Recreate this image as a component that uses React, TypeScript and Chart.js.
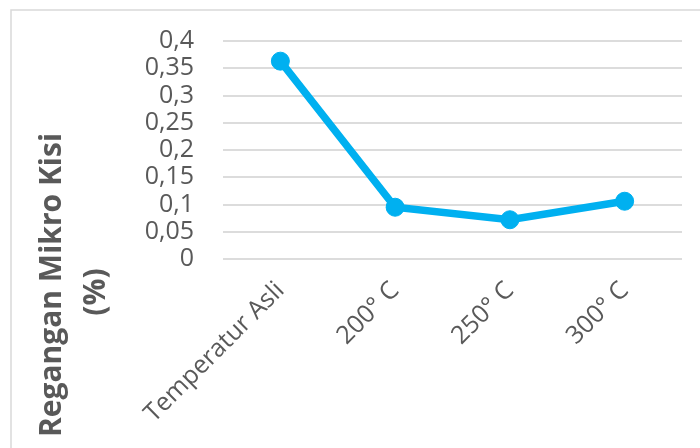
import React, { useEffect, useRef } from "react";
import { Chart, registerables } from "chart.js";

Chart.register(...registerables);

const categories = ["Temperatur Asli", "200° C", "250° C", "300° C"];
const strainValues = [0.363, 0.095, 0.072, 0.106];
const yTickMin = 0;
const yTickMax = 0.4;
const yTickStep = 0.05;
const titleLines = ["Regangan Mikro Kisi", "(%)"];

const TEXT = "#595959";
const LINE = "#00B0F0";

const framePlugin = {
  id: "frameAndTitle",
  beforeDraw(chart: any) {
    const ctx = chart.ctx;
    ctx.save();
    ctx.fillStyle = "#ffffff";
    ctx.fillRect(0, 0, chart.width, chart.height);
    ctx.strokeStyle = "#d9d9d9";
    ctx.lineWidth = 1.5;
    ctx.beginPath();
    ctx.moveTo(11, chart.height + 5);
    ctx.lineTo(11, 10);
    ctx.lineTo(chart.width + 5, 10);
    ctx.stroke();
    ctx.restore();
  },
  afterDraw(chart: any) {
    const ctx = chart.ctx;
    ctx.save();
    ctx.fillStyle = TEXT;
    ctx.font = "bold 30px 'Open Sans'";
    ctx.textAlign = "center";
    ctx.textBaseline = "alphabetic";
    const pos = [
      { x: 61, y: 285 },
      { x: 105, y: 292 },
    ];
    titleLines.forEach((t, i) => {
      ctx.save();
      ctx.translate(pos[i].x, pos[i].y);
      ctx.rotate(-Math.PI / 2);
      ctx.fillText(t, 0, 0);
      ctx.restore();
    });
    ctx.restore();
  },
};

export default function App() {
  const ref = useRef<HTMLCanvasElement | null>(null);
  useEffect(() => {
    if (!ref.current) return;
    const chart = new Chart(ref.current, {
      type: "line",
      data: {
        labels: categories,
        datasets: [
          {
            data: strainValues,
            borderColor: LINE,
            backgroundColor: LINE,
            borderWidth: 7.5,
            pointRadius: 9,
            pointBorderWidth: 1,
            pointBackgroundColor: LINE,
            pointBorderColor: LINE,
            tension: 0,
            fill: false,
          },
          {
            data: strainValues,
            showLine: false,
            pointRadius: 1.8,
            pointBorderWidth: 0,
            pointBackgroundColor: "#6f84b4",
            borderColor: "#6f84b4",
          },
        ],
      },
      options: {
        responsive: false,
        animation: false,
        devicePixelRatio: 1,
        layout: { padding: { left: 0, right: 18, top: 41, bottom: 0 } },
        plugins: {
          legend: { display: false },
          tooltip: { enabled: false },
        },
        scales: {
          x: {
            offset: true,
            grid: { display: false, drawTicks: false },
            border: { display: false },
            ticks: {
              color: TEXT,
              font: { family: "'Open Sans'", size: 25 },
              maxRotation: 45,
              minRotation: 45,
              padding: 17,
              autoSkip: false,
            },
            afterFit(scale: any) {
              scale.height = 189;
              scale.paddingTop = 0;
              scale.paddingBottom = 0;
              scale.paddingLeft = 0;
              scale.paddingRight = 0;
            },
          },
          y: {
            min: yTickMin,
            max: yTickMax,
            grid: { color: "#dcdcdc", lineWidth: 2, drawTicks: false },
            border: { display: false },
            ticks: {
              stepSize: yTickStep,
              autoSkip: false,
              color: TEXT,
              font: { family: "'Open Sans'", size: 25 },
              padding: 29,
              callback: (v: any) => {
                const n = Math.round(Number(v) * 100) / 100;
                return String(n).replace(".", ",");
              },
            },
            afterFit(scale: any) {
              scale.width = 223;
              scale.paddingTop = 0;
              scale.paddingBottom = 0;
              scale.paddingLeft = 0;
              scale.paddingRight = 0;
            },
          },
        },
      },
      plugins: [framePlugin],
    });
    return () => chart.destroy();
  }, []);
  return (
    <div style={{ position: "fixed", left: 0, top: 0, width: 700, height: 448, background: "#fff" }}>
      <canvas ref={ref} width={700} height={448} style={{ display: "block" }} />
    </div>
  );
}
